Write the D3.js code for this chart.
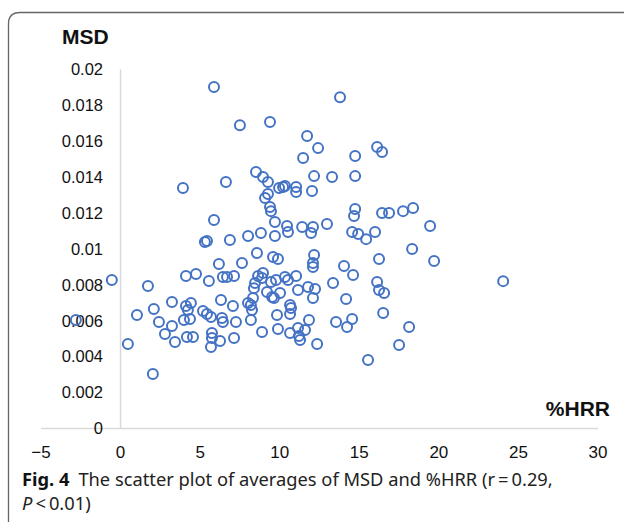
<!DOCTYPE html>
<html>
<head>
<meta charset="utf-8">
<script src="https://cdn.jsdelivr.net/npm/d3@7"></script>
<style>
  body { margin: 0; background: #fff; }
  svg { display: block; }
</style>
</head>
<body>
<svg id="chart" width="624" height="522"></svg>
<script>
// %HRR (x) and MSD (y)
var hrr = [
  5.87, 13.79, 7.50, 9.39, 11.72, 12.41, 11.47, 14.74, 16.12, 16.43,
  3.92, 6.62, 8.51, 8.95, 9.26, 12.16, 13.29, 14.74, 9.96, 10.21,
  10.33, 11.03, 11.03, 12.03, 9.08, 9.26, 9.39, 9.45, 5.87, 9.70,
  14.74, 14.67, 16.43, 16.87, 17.75, 18.38, 19.45, 10.46, 10.52, 11.41,
  12.09, 11.97, 12.97, 14.55, 14.93, 15.43, 15.99, 5.30, 5.43, 6.87,
  8.01, 8.82, 9.70, 18.32, 19.70, 16.24, 8.57, 9.58, 9.89, 12.16,
  12.09, 12.09, 7.63, 6.18, 14.04, 14.61, 13.35, 16.12, 16.24, 16.56,
  14.17, 16.50, 18.13, 17.50, 15.55, 24.04, 13.54, 14.23, 14.55, 12.35,
  -0.55, -2.81, 0.46, 1.72, 1.03, 2.09, 2.41, 2.79, 3.23, 3.23,
  3.42, 2.03, 4.11, 4.74, 5.55, 4.11, 4.42, 4.23, 3.98, 4.36,
  4.17, 4.55, 5.18, 5.43, 5.68, 5.74, 5.74, 5.68, 6.25, 7.13,
  6.43, 6.69, 7.13, 6.31, 7.06, 6.37, 6.43, 7.25, 8.19, 8.64,
  8.95, 8.89, 8.45, 8.38, 9.45, 9.77, 10.33, 10.52, 11.03, 9.20,
  9.52, 9.64, 10.02, 11.15, 11.78, 12.22, 12.09, 10.65, 10.71, 10.65,
  9.83, 8.19, 8.01, 8.32, 8.26, 11.84, 8.89, 9.89, 10.65, 11.15,
  11.59, 11.21, 11.28
];
var msd = [
  0.01902, 0.01846, 0.01690, 0.01707, 0.01630, 0.01562, 0.01507, 0.01518, 0.01568, 0.01540,
  0.01340, 0.01373, 0.01429, 0.01401, 0.01373, 0.01406, 0.01401, 0.01406, 0.01340, 0.01345,
  0.01351, 0.01345, 0.01317, 0.01323, 0.01284, 0.01306, 0.01234, 0.01211, 0.01161, 0.01150,
  0.01223, 0.01184, 0.01200, 0.01200, 0.01211, 0.01228, 0.01128, 0.01128, 0.01095, 0.01122,
  0.01122, 0.01089, 0.01139, 0.01095, 0.01083, 0.01055, 0.01095, 0.01039, 0.01044, 0.01050,
  0.01072, 0.01089, 0.01072, 0.01000, 0.00933, 0.00944, 0.00978, 0.00955, 0.00944, 0.00966,
  0.00922, 0.00900, 0.00922, 0.00916, 0.00905, 0.00855, 0.00810, 0.00816, 0.00771, 0.00755,
  0.00721, 0.00643, 0.00565, 0.00465, 0.00382, 0.00821, 0.00593, 0.00565, 0.00610, 0.00471,
  0.00827, 0.00604, 0.00471, 0.00794, 0.00632, 0.00666, 0.00593, 0.00526, 0.00705, 0.00571,
  0.00482, 0.00304, 0.00849, 0.00861, 0.00822, 0.00682, 0.00699, 0.00660, 0.00604, 0.00610,
  0.00510, 0.00510, 0.00654, 0.00638, 0.00621, 0.00532, 0.00504, 0.00454, 0.00487, 0.00504,
  0.00844, 0.00844, 0.00849, 0.00716, 0.00682, 0.00615, 0.00593, 0.00593, 0.00604, 0.00849,
  0.00866, 0.00838, 0.00810, 0.00782, 0.00816, 0.00827, 0.00844, 0.00827, 0.00849, 0.00760,
  0.00732, 0.00727, 0.00755, 0.00771, 0.00788, 0.00777, 0.00727, 0.00688, 0.00671, 0.00638,
  0.00632, 0.00688, 0.00699, 0.00727, 0.00660, 0.00604, 0.00538, 0.00554, 0.00532, 0.00560,
  0.00549, 0.00515, 0.00493
];
var xTicks = [-5, 0, 5, 10, 15, 20, 25, 30];
var yTicks = [0, 0.002, 0.004, 0.006, 0.008, 0.01, 0.012, 0.014, 0.016, 0.018, 0.02];

var svg = d3.select("#chart");
var points = hrr.map(function (d, i) { return { x: d, y: msd[i] }; });

var x = d3.scaleLinear().domain([-5, 30]).range([41, 598]);
var y = d3.scaleLinear().domain([0, 0.02]).range([428.5, 69.5]);

var axisFont = "'Liberation Sans', Arial, Helvetica, sans-serif";
var capFont = "'Noto Sans', 'Open Sans', sans-serif";

// rounded frame round the figure
svg.append("path")
  .attr("d", "M8.5,530 L8.5,24 Q8.5,12.5 20,12.5 L630,12.5")
  .attr("fill", "none")
  .attr("stroke", "#666")
  .attr("stroke-width", 1.3);

// y axis line at x = 0
svg.append("line")
  .attr("x1", x(0)).attr("x2", x(0))
  .attr("y1", y(0.02)).attr("y2", y(0))
  .attr("stroke", "#d9d9d9")
  .attr("stroke-width", 1.5);

// x axis line
svg.append("line")
  .attr("x1", x(-5)).attr("x2", x(30))
  .attr("y1", y(0)).attr("y2", y(0))
  .attr("stroke", "#d9d9d9")
  .attr("stroke-width", 1.5);

svg.append("g")
  .selectAll("text")
  .data(yTicks)
  .enter().append("text")
  .attr("x", 103)
  .attr("y", function (d) { return y(d); })
  .attr("dy", "0.35em")
  .attr("text-anchor", "end")
  .style("font-family", axisFont)
  .style("font-size", "16.5px")
  .attr("fill", "#111")
  .text(function (d) { return d3.format("")(+d.toFixed(3)); });

svg.append("g")
  .selectAll("text")
  .data(xTicks)
  .enter().append("text")
  .attr("x", function (d) { return x(d); })
  .attr("y", 458)
  .attr("text-anchor", "middle")
  .style("font-family", axisFont)
  .style("font-size", "17px")
  .attr("fill", "#111")
  .text(function (d) { return d3.format("")(d); });

svg.append("text")
  .attr("x", 62).attr("y", 44)
  .style("font-family", axisFont)
  .style("font-weight", "bold")
  .style("font-size", "21px")
  .attr("fill", "#111")
  .text("MSD");

svg.append("text")
  .attr("x", 610).attr("y", 416)
  .attr("text-anchor", "end")
  .style("font-family", axisFont)
  .style("font-weight", "bold")
  .style("font-size", "21px")
  .attr("fill", "#111")
  .text("%HRR");

svg.append("g")
  .selectAll("circle")
  .data(points)
  .enter().append("circle")
  .attr("cx", function (d) { return x(d.x); })
  .attr("cy", function (d) { return y(d.y); })
  .attr("r", 5)
  .attr("fill", "none")
  .attr("stroke", "#4472c4")
  .attr("stroke-width", 2);

// caption
var cap = svg.append("text")
  .attr("x", 22).attr("y", 486)
  .style("font-family", capFont)
  .style("font-size", "18.3px")
  .attr("fill", "#222");
cap.append("tspan").style("font-weight", "bold").attr("fill", "#111").text("Fig. 4");
cap.append("tspan").attr("dx", 9).text("The scatter plot of averages of MSD and %HRR (r\u2009=\u20090.29,");

var cap2 = svg.append("text")
  .attr("x", 22).attr("y", 510)
  .style("font-family", capFont)
  .style("font-size", "18.3px")
  .attr("fill", "#222");
cap2.append("tspan").style("font-style", "italic").text("P");
cap2.append("tspan").text("\u2009<\u20090.01)");
</script>
</body>
</html>
